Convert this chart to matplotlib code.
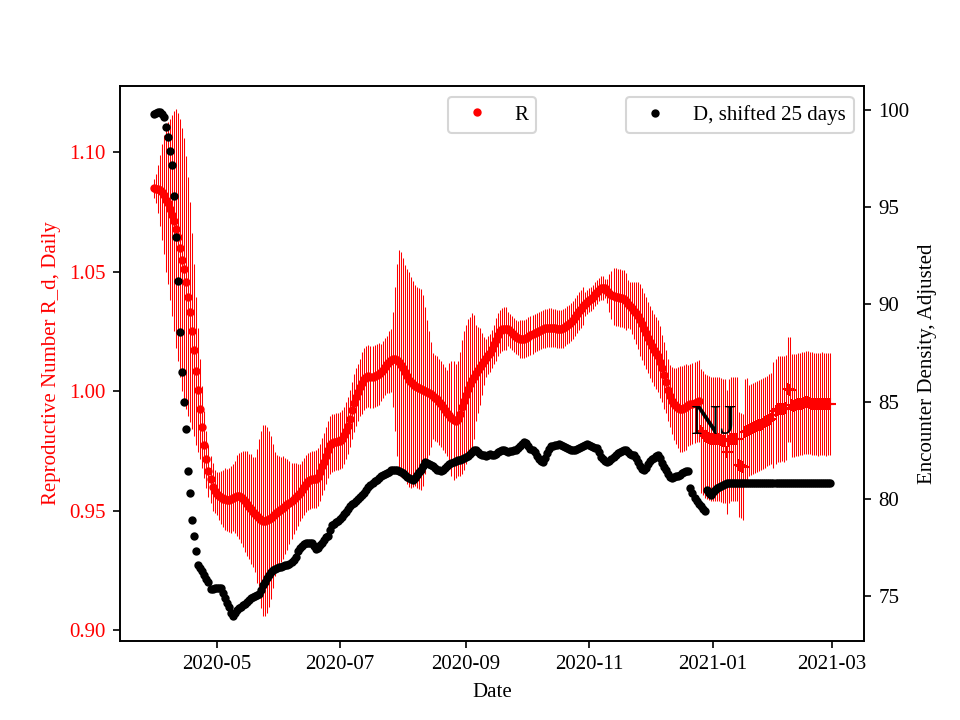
import numpy as np
import pandas as pd
import matplotlib
matplotlib.use('Agg')
import matplotlib.pyplot as plt

plt.rcParams['font.family'] = ['Liberation Serif', 'DejaVu Serif']

# daily dates, first day of the series
start_day = '2020-03-31'
n_fit = 270   # days drawn as dots, the rest as '+'

# reproductive number, daily
r_fit = [
    1.0849, 1.0847, 1.0845, 1.0840, 1.0832, 1.0822, 1.0800, 1.0788, 1.0760, 1.0735,
    1.0710, 1.0680, 1.0645, 1.0600, 1.0550, 1.0510, 1.0455, 1.0395, 1.0330, 1.0250,
    1.0170, 1.0085, 1.0005, 0.9925, 0.9850, 0.9775, 0.9715, 0.9665, 0.9630, 0.9600,
    0.9580, 0.9570, 0.9560, 0.9555, 0.9550, 0.9548, 0.9546, 0.9545, 0.9548, 0.9553,
    0.9558, 0.9562, 0.9560, 0.9555, 0.9548, 0.9538, 0.9528, 0.9517, 0.9506, 0.9495,
    0.9484, 0.9476, 0.9468, 0.9462, 0.9458, 0.9457, 0.9460, 0.9465, 0.9470, 0.9477,
    0.9485, 0.9492, 0.9498, 0.9505, 0.9512, 0.9519, 0.9526, 0.9533, 0.9541, 0.9550,
    0.9558, 0.9566, 0.9575, 0.9587, 0.9600, 0.9612, 0.9622, 0.9627, 0.9630, 0.9631,
    0.9632, 0.9640, 0.9660, 0.9685, 0.9705, 0.9730, 0.9755, 0.9775, 0.9782, 0.9786,
    0.9788, 0.9790, 0.9793, 0.9800, 0.9815, 0.9835, 0.9855, 0.9885, 0.9920, 0.9950,
    0.9975, 0.9995, 1.0015, 1.0035, 1.0050, 1.0060, 1.0064, 1.0060, 1.0060, 1.0064,
    1.0068, 1.0073, 1.0078, 1.0090, 1.0102, 1.0112, 1.0120, 1.0128, 1.0133, 1.0134,
    1.0130, 1.0122, 1.0110, 1.0095, 1.0078, 1.0062, 1.0048, 1.0036, 1.0030, 1.0022,
    1.0016, 1.0012, 1.0008, 1.0004, 1.0001, 0.9997, 0.9992, 0.9987, 0.9981, 0.9973,
    0.9965, 0.9956, 0.9945, 0.9933, 0.9920, 0.9910, 0.9898, 0.9886, 0.9877, 0.9875,
    0.9885, 0.9905, 0.9935, 0.9960, 0.9985, 1.0010, 1.0030, 1.0045, 1.0060, 1.0075,
    1.0090, 1.0102, 1.0115, 1.0127, 1.0138, 1.0150, 1.0160, 1.0175, 1.0195, 1.0215,
    1.0235, 1.0250, 1.0258, 1.0260, 1.0260, 1.0259, 1.0252, 1.0243, 1.0234, 1.0226,
    1.0222, 1.0219, 1.0217, 1.0218, 1.0222, 1.0228, 1.0233, 1.0237, 1.0242, 1.0248,
    1.0253, 1.0257, 1.0259, 1.0262, 1.0264, 1.0266, 1.0266, 1.0265, 1.0263, 1.0261,
    1.0259, 1.0259, 1.0262, 1.0268, 1.0275, 1.0282, 1.0288, 1.0298, 1.0310, 1.0322,
    1.0335, 1.0345, 1.0355, 1.0364, 1.0372, 1.0380, 1.0386, 1.0395, 1.0405, 1.0415,
    1.0425, 1.0430, 1.0433, 1.0430, 1.0420, 1.0410, 1.0402, 1.0397, 1.0393, 1.0392,
    1.0390, 1.0388, 1.0386, 1.0375, 1.0365, 1.0358, 1.0348, 1.0336, 1.0325, 1.0315,
    1.0298, 1.0280, 1.0260, 1.0242, 1.0224, 1.0206, 1.0190, 1.0172, 1.0158, 1.0148,
    1.0122, 1.0095, 1.0066, 1.0040, 1.0005, 0.9980, 0.9960, 0.9946, 0.9937, 0.9930,
    0.9925, 0.9926, 0.9930, 0.9935, 0.9940, 0.9944, 0.9948, 0.9952, 0.9955, 0.9958,
]
r_late = [
    0.9834, 0.9825, 0.9813, 0.9808, 0.9803, 0.9799, 0.9799, 0.9800, 0.9799, 0.9798,
    0.9795, 0.9792, 0.9790, 0.9744, 0.9790, 0.9798, 0.9800, 0.9799, 0.9798, 0.9692,
    0.9687, 0.9682, 0.9830, 0.9834, 0.9836, 0.9840, 0.9845, 0.9848, 0.9852, 0.9856,
    0.9860, 0.9864, 0.9870, 0.9875, 0.9880, 0.9885, 0.9900, 0.9915, 0.9925, 0.9925,
    0.9926, 0.9925, 0.9930, 1.0008, 1.0005, 0.9940, 0.9939, 0.9942, 0.9944, 0.9946,
    0.9948, 0.9950, 0.9953, 0.9953, 0.9950, 0.9948, 0.9946, 0.9946, 0.9945, 0.9946,
    0.9947, 0.9946, 0.9945, 0.9946, 0.9946,
]

# half width of the R error bars
r_err = [
    0.004, 0.006, 0.010, 0.015, 0.020, 0.025, 0.030, 0.034, 0.038, 0.042,
    0.046, 0.050, 0.052, 0.054, 0.055, 0.055, 0.053, 0.050, 0.046, 0.041,
    0.036, 0.031, 0.026, 0.021, 0.017, 0.014, 0.012, 0.011, 0.010, 0.010,
    0.009, 0.009, 0.010, 0.011, 0.012, 0.013, 0.013, 0.0135, 0.014, 0.014,
    0.015, 0.017, 0.018, 0.019, 0.020, 0.021, 0.022, 0.022, 0.023, 0.023,
    0.024, 0.028, 0.033, 0.037, 0.040, 0.040, 0.039, 0.037, 0.034, 0.030,
    0.026, 0.024, 0.023, 0.022, 0.0215, 0.020, 0.019, 0.0175, 0.016, 0.015,
    0.014, 0.013, 0.012, 0.012, 0.012, 0.012, 0.012, 0.012, 0.012, 0.012,
    0.012, 0.012, 0.012, 0.012, 0.012, 0.012, 0.012, 0.012, 0.012, 0.012,
    0.012, 0.012, 0.012, 0.012, 0.012, 0.012, 0.012, 0.012, 0.012, 0.012,
    0.012, 0.012, 0.012, 0.013, 0.013, 0.013, 0.013, 0.013, 0.013, 0.013,
    0.013, 0.013, 0.012, 0.012, 0.012, 0.012, 0.013, 0.013, 0.020, 0.030,
    0.040, 0.047, 0.047, 0.046, 0.045, 0.045, 0.045, 0.044, 0.043, 0.042,
    0.042, 0.042, 0.042, 0.040, 0.035, 0.030, 0.026, 0.022, 0.018, 0.018,
    0.018, 0.018, 0.018, 0.018, 0.018, 0.018, 0.022, 0.024, 0.025, 0.024,
    0.024, 0.026, 0.028, 0.029, 0.029, 0.029, 0.028, 0.028, 0.026, 0.020,
    0.018, 0.016, 0.013, 0.010, 0.008, 0.008, 0.008, 0.008, 0.008, 0.009,
    0.009, 0.009, 0.009, 0.009, 0.009, 0.007, 0.007, 0.007, 0.007, 0.007,
    0.007, 0.008, 0.008, 0.008, 0.008, 0.008, 0.008, 0.008, 0.008, 0.008,
    0.008, 0.008, 0.008, 0.008, 0.008, 0.008, 0.008, 0.008, 0.008, 0.008,
    0.008, 0.008, 0.008, 0.008, 0.008, 0.008, 0.008, 0.008, 0.008, 0.008,
    0.008, 0.008, 0.008, 0.005, 0.005, 0.005, 0.005, 0.005, 0.005, 0.005,
    0.005, 0.005, 0.005, 0.004, 0.005, 0.008, 0.010, 0.012, 0.012, 0.012,
    0.012, 0.012, 0.012, 0.012, 0.010, 0.010, 0.011, 0.012, 0.013, 0.014,
    0.015, 0.015, 0.015, 0.015, 0.015, 0.015, 0.015, 0.015, 0.015, 0.015,
    0.015, 0.014, 0.014, 0.013, 0.013, 0.013, 0.014, 0.015, 0.016, 0.017,
    0.018, 0.018, 0.018, 0.018, 0.017, 0.017, 0.017, 0.017, 0.017, 0.017,
    0.026, 0.026, 0.026, 0.026, 0.026, 0.026, 0.026, 0.026, 0.026, 0.026,
    0.026, 0.026, 0.026, 0.026, 0.026, 0.026, 0.026, 0.026, 0.026, 0.022,
    0.022, 0.022, 0.022, 0.022, 0.019, 0.019, 0.019, 0.019, 0.019, 0.019,
    0.019, 0.019, 0.019, 0.019, 0.019, 0.019, 0.022, 0.022, 0.022, 0.022,
    0.022, 0.022, 0.022, 0.022, 0.022, 0.0215, 0.0215, 0.0215, 0.0215, 0.0215,
    0.0215, 0.0215, 0.0215, 0.0215, 0.0215, 0.0215, 0.0215, 0.0215, 0.0215, 0.0215,
    0.0215, 0.0215, 0.0215, 0.0215, 0.0215,
]

# encounter density, shifted 25 days
d_vals = [
    99.8, 99.85, 99.9, 99.9, 99.8, 99.65, 99.15, 98.6, 97.9, 97.2,
    95.6, 93.5, 91.2, 88.6, 86.5, 85.0, 83.6, 81.4, 80.3, 78.9,
    78.1, 77.3, 76.6, 76.45, 76.3, 76.05, 75.85, 75.7, 75.35, 75.35,
    75.4, 75.4, 75.4, 75.4, 75.15, 74.9, 74.65, 74.4, 74.1, 73.95,
    74.1, 74.25, 74.35, 74.4, 74.5, 74.6, 74.7, 74.8, 74.9, 74.95,
    75.0, 75.05, 75.1, 75.3, 75.55, 75.7, 75.9, 76.05, 76.2, 76.35,
    76.4, 76.45, 76.5, 76.5, 76.55, 76.6, 76.6, 76.65, 76.75, 76.85,
    77.0, 77.3, 77.45, 77.55, 77.65, 77.7, 77.7, 77.7, 77.7, 77.55,
    77.4, 77.45, 77.6, 77.7, 77.85, 78.0, 78.1, 78.4, 78.65, 78.7,
    78.8, 78.85, 78.95, 79.05, 79.2, 79.3, 79.45, 79.6, 79.7, 79.8,
    79.9, 80.0, 80.1, 80.2, 80.3, 80.45, 80.6, 80.7, 80.8, 80.9,
    80.95, 81.05, 81.15, 81.2, 81.25, 81.3, 81.35, 81.45, 81.5, 81.5,
    81.45, 81.4, 81.35, 81.3, 81.2, 81.1, 81.05, 81.0, 80.95, 81.05,
    81.2, 81.35, 81.45, 81.7, 81.9, 81.85, 81.8, 81.75, 81.7, 81.6,
    81.5, 81.45, 81.4, 81.5, 81.6, 81.7, 81.8, 81.85, 81.9, 81.95,
    82.0, 82.0, 82.05, 82.1, 82.15, 82.2, 82.3, 82.4, 82.5, 82.5,
    82.4, 82.3, 82.25, 82.25, 82.2, 82.25, 82.3, 82.25, 82.25, 82.3,
    82.4, 82.45, 82.5, 82.5, 82.45, 82.4, 82.45, 82.45, 82.5, 82.5,
    82.6, 82.7, 82.8, 82.9, 82.85, 82.7, 82.55, 82.5, 82.4, 82.2,
    82.05, 81.95, 81.9, 82.1, 82.35, 82.55, 82.7, 82.7, 82.75, 82.75,
    82.8, 82.75, 82.7, 82.65, 82.6, 82.55, 82.5, 82.5, 82.5, 82.55,
    82.6, 82.65, 82.7, 82.75, 82.8, 82.75, 82.7, 82.65, 82.6, 82.6,
    82.4, 82.15, 82.05, 81.95, 81.9, 81.95, 82.05, 82.15, 82.25, 82.35,
    82.4, 82.45, 82.5, 82.5, 82.4, 82.3, 82.25, 82.25, 82.1, 81.9,
    81.7, 81.55, 81.5, 81.6, 81.8, 81.95, 82.05, 82.1, 82.2, 82.25,
    82.1, 81.85, 81.65, 81.45, 81.25, 81.1, 81.05, 81.1, 81.15, 81.15,
    81.2, 81.3, 81.35, 81.4, 81.4, 80.55, 80.3, 80.05, 79.9, 79.75,
    79.6, 79.45, 79.35, 80.45, 80.3, 80.2, 80.35, 80.45, 80.55, 80.6,
    80.65, 80.7, 80.75, 80.8, 80.8, 80.8, 80.8, 80.8, 80.8, 80.8,
    80.8, 80.8, 80.8, 80.8, 80.8, 80.8, 80.8, 80.8, 80.8, 80.8,
    80.8, 80.8, 80.8, 80.8, 80.8, 80.8, 80.8, 80.8, 80.8, 80.8,
    80.8, 80.8, 80.8, 80.8, 80.8, 80.8, 80.8, 80.8, 80.8, 80.8,
    80.8, 80.8, 80.8, 80.8, 80.8, 80.8, 80.8, 80.8, 80.8, 80.8,
    80.8, 80.8, 80.8, 80.8, 80.8,
]

days = pd.date_range(start_day, periods=len(d_vals), freq='D')
r_all = np.array(r_fit + r_late)

fig, ax = plt.subplots(figsize=(6.4, 4.8), dpi=150)

# error bars first, then the points on top
ax.errorbar(days, r_all, yerr=r_err, fmt='none', ecolor='red', elinewidth=0.5)
ax.plot(days[:n_fit], r_fit, 'r.', label='R')
ax.plot(days[n_fit:], r_late, 'r+')
ax.set_ylim(0.8955, 1.1275)
ax.set_xlabel('Date')
ax.set_ylabel('Reproductive Number R_d, Daily', color='red')
ax.tick_params(axis='y', labelcolor='red')
ax.text(pd.Timestamp('2020-12-21'), 0.982, 'NJ', fontsize=20)
ax.legend(loc='upper center')

ax2 = ax.twinx()
ax2.plot(days, d_vals, 'k.', label='D, shifted 25 days')
ax2.set_ylim(72.68, 101.23)
ax2.set_ylabel('Encounter Density, Adjusted')
ax2.legend(loc='upper right')

plt.savefig('out.png', dpi=150)
